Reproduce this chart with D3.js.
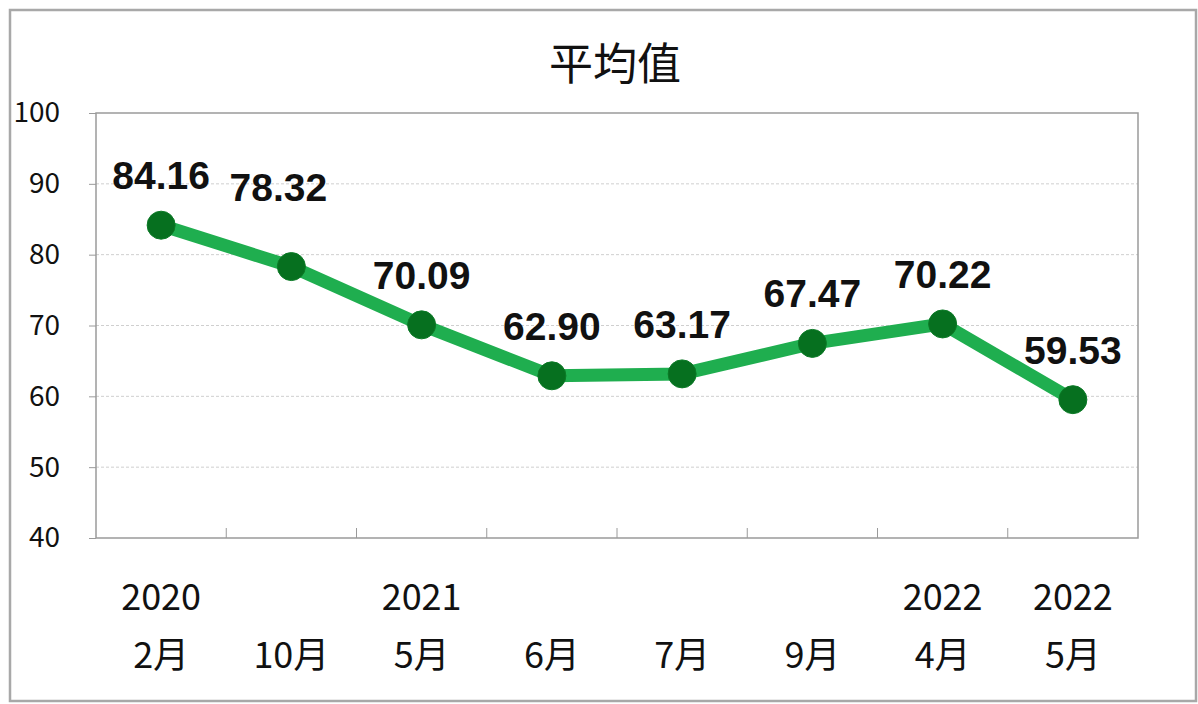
<!DOCTYPE html>
<html>
<head>
<meta charset="utf-8">
<script src="https://cdn.jsdelivr.net/npm/d3@7"></script>
<style>
html,body{margin:0;padding:0;background:#fff;}
svg{display:block;}
</style>
</head>
<body>
<svg id="chart" width="1198" height="704"></svg>
<script>
const title = "平均值";
const months = ["2月","10月","5月","6月","7月","9月","4月","5月"];
const years = ["2020","","2021","","","","2022","2022"];
const values = [84.16, 78.32, 70.09, 62.90, 63.17, 67.47, 70.22, 59.53];
const yTicks = [40, 50, 60, 70, 80, 90, 100];

const svg = d3.select("#chart");
const m = {left: 96, right: 1138, top: 113, bottom: 538};
const cjk = "'Noto Sans CJK TC','Noto Sans CJK SC',sans-serif";

// outer frame
svg.append("rect").attr("x", 10).attr("y", 10).attr("width", 1186).attr("height", 691)
  .attr("fill", "#fff").attr("stroke", "#a8a8a8").attr("stroke-width", 2.5);

const idx = d3.range(values.length);
const x = d3.scaleBand().domain(idx).range([m.left, m.right]).padding(0);
const y = d3.scaleLinear().domain([40, 100]).range([m.bottom, m.top]);
const cx = i => x(i) + x.bandwidth() / 2;

// gridlines
svg.append("g").selectAll("line").data(yTicks.filter(t => t > 40 && t < 100)).join("line")
  .attr("x1", m.left).attr("x2", m.right)
  .attr("y1", d => y(d)).attr("y2", d => y(d))
  .attr("stroke", "#cfcfcf").attr("stroke-width", 1).attr("stroke-dasharray", "3,2");

// plot border
svg.append("rect").attr("x", m.left).attr("y", m.top)
  .attr("width", m.right - m.left).attr("height", m.bottom - m.top)
  .attr("fill", "none").attr("stroke", "#9a9a9a").attr("stroke-width", 1.5);

// y axis
const yAxis = d3.axisLeft(y).tickValues(yTicks).tickSize(7).tickPadding(29);
const gy = svg.append("g").attr("transform", `translate(${m.left},0)`).call(yAxis);
gy.select(".domain").remove();
gy.selectAll(".tick line").attr("stroke", "#9a9a9a").attr("stroke-width", 1);
gy.selectAll(".tick text").attr("font-family", cjk).attr("font-size", 28).attr("fill", "#111");

// x ticks at band boundaries (inside)
svg.append("g").selectAll("line").data(d3.range(1, values.length)).join("line")
  .attr("x1", d => x(d)).attr("x2", d => x(d))
  .attr("y1", m.bottom).attr("y2", m.bottom - 10)
  .attr("stroke", "#9a9a9a").attr("stroke-width", 1);

// x labels
const xl = svg.append("g").attr("font-family", cjk).attr("fill", "#111").attr("text-anchor", "middle");
xl.selectAll("text.yr").data(idx).join("text").attr("class", "yr")
  .attr("x", cx).attr("y", 610).attr("font-size", 36).text(i => years[i]);
xl.selectAll("text.mo").data(idx).join("text").attr("class", "mo")
  .attr("x", cx).attr("y", 668).attr("font-size", 36).text(i => months[i]);

// title
svg.append("text").attr("x", 615).attr("y", 80).attr("text-anchor", "middle")
  .attr("font-family", cjk).attr("font-size", 44).attr("fill", "#111").text(title);

// line
const line = d3.line().x(i => cx(i)).y(i => y(values[i]));
svg.append("path").datum(idx).attr("d", line)
  .attr("fill", "none").attr("stroke", "#1fae4f").attr("stroke-width", 13)
  .attr("stroke-linejoin", "round");

// markers
svg.append("g").selectAll("circle").data(idx).join("circle")
  .attr("cx", cx).attr("cy", i => y(values[i])).attr("r", 14)
  .attr("fill", "#06701f").attr("stroke", "#0b7a26").attr("stroke-width", 1);

// data labels (the second one sits higher & left to avoid the line)
svg.append("g").selectAll("text").data(idx).join("text")
  .attr("x", i => cx(i) + (i === 1 ? -13 : 0))
  .attr("y", i => y(values[i]) - (i === 1 ? 66 : 36))
  .attr("text-anchor", "middle")
  .attr("font-family", "'Liberation Sans', Arial, sans-serif")
  .attr("font-weight", "bold").attr("font-size", 39).attr("fill", "#111")
  .text(i => values[i].toFixed(2));
</script>
</body>
</html>
